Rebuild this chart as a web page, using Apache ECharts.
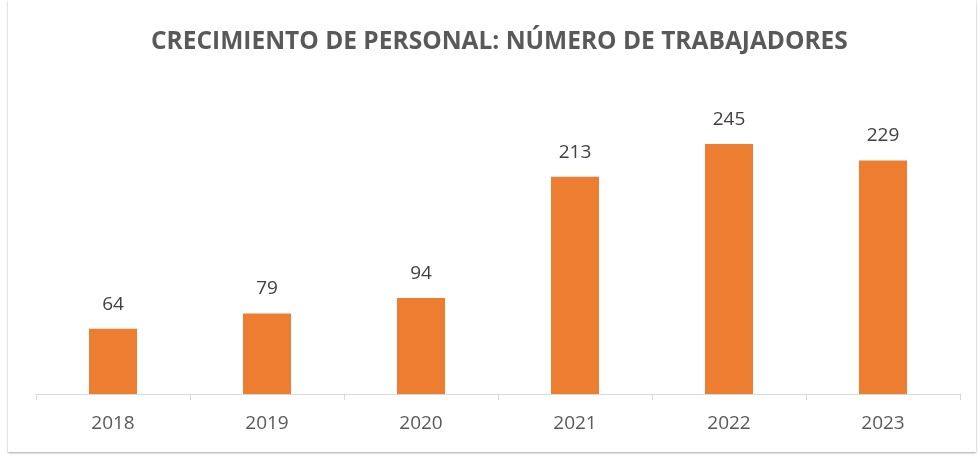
<!DOCTYPE html>
<html>
<head>
<meta charset="utf-8">
<script src="https://cdn.jsdelivr.net/npm/echarts@6/dist/echarts.min.js"></script>
<style>
  html, body { margin: 0; padding: 0; background: #fff; }
  #wrap { position: absolute; left: 8px; top: 0; width: 968px; height: 452px;
          box-shadow: 0 1px 2px rgba(0,0,0,0.35); background: #fff; }
  #container1 { position: absolute; left: -8px; top: 0; width: 978px; height: 455px; }
</style>
</head>
<body>
<div id="wrap"><div id="container1"></div></div>
<script>
var years = ['2018', '2019', '2020', '2021', '2022', '2023'];
var workers = [64, 79, 94, 213, 245, 229];

var dom1 = document.getElementById("container1");
var myChart1 = echarts.init(dom1);
var option1 = {
    animation: false,
    title: {
        text: 'CRECIMIENTO DE PERSONAL: NÚMERO DE TRABAJADORES',
        left: 146,
        top: 25,
        textStyle: {
            fontFamily: 'Open Sans',
            fontSize: 24.5,
            fontWeight: 'bold',
            color: '#595959'
        }
    },
    grid: {
        left: 36,
        right: 18,
        top: 88,
        bottom: 61
    },
    xAxis: {
        type: 'category',
        data: years,
        axisLine: { lineStyle: { color: '#d9d9d9', width: 1 } },
        axisTick: { show: true, length: 6, lineStyle: { color: '#d9d9d9' } },
        axisLabel: {
            margin: 20,
            fontFamily: 'Open Sans',
            fontSize: 19,
            color: '#595959'
        }
    },
    yAxis: {
        type: 'value',
        min: 0,
        max: 300,
        show: false,
        splitLine: { show: false }
    },
    series: [
        {
            type: 'bar',
            data: workers,
            barWidth: 48,
            itemStyle: { color: '#ED7D31' },
            label: {
                show: true,
                position: 'top',
                distance: 15,
                fontFamily: 'Open Sans',
                fontSize: 19,
                color: '#404040'
            }
        }
    ]
};
myChart1.setOption(option1);
</script>
</body>
</html>
